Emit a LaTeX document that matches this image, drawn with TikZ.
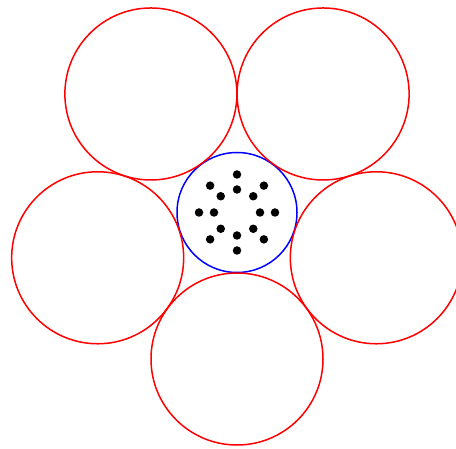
\documentclass[tikz,border=0pt]{standalone}
\usetikzlibrary{positioning}
\definecolor{Strand}{HTML}{FF0000}
\definecolor{Core}{HTML}{0000FF}
\tikzset{
  strandbox/.style={circle,draw=Strand,line width=1.5pt,minimum size=172pt,inner sep=0pt},
  corebox/.style={circle,draw=Core,line width=1.5pt,minimum size=120pt,inner sep=0pt},
  fibre/.style={circle,fill=black,minimum size=8.5pt,inner sep=0pt}
}
\begin{document}
\begin{tikzpicture}[x=1pt,y=1pt]
  \useasboundingbox (0,0) rectangle (456,448);
  \clip (0,0) rectangle (456,448);
  \node[corebox] (core) at (237,235.5) {};
  % outer strands round the core
  \foreach \a/\n in {270/bottom,342/right,54/topright,126/topleft,198/left}
    \node[strandbox] (\n) at ([shift={(\a:146.5)}]core.center) {};
  % fibres inside the core
  \foreach \a in {0,45,...,315} {
    \node[fibre] (outer\a) at ([shift={(\a:38)}]core.center) {};
    \node[fibre] (inner\a) at ([shift={(\a:23)}]core.center) {};
  }
\end{tikzpicture}
\end{document}
